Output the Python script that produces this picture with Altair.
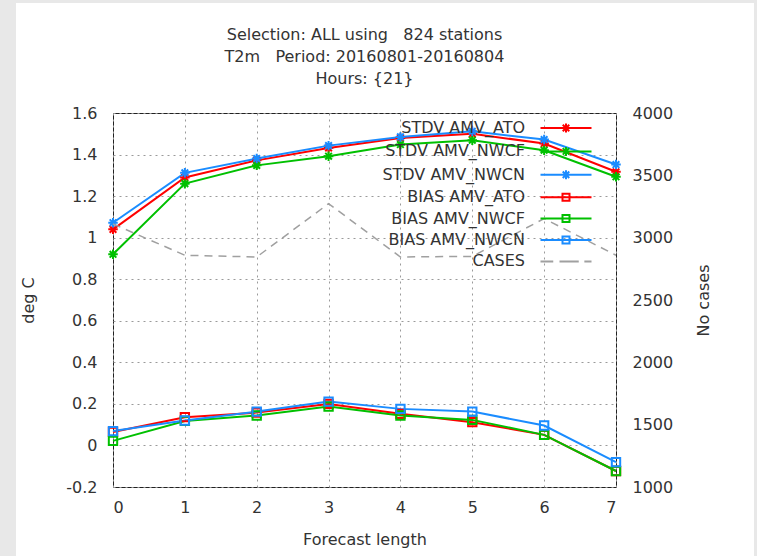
import altair as alt
import pandas as pd

# Forecast length (x) and the statistics per experiment
lead = [0, 1, 2, 3, 4, 5, 6, 7]

stdv_ato = [1.040, 1.290, 1.372, 1.432, 1.480, 1.500, 1.453, 1.317]
stdv_nwcf = [0.920, 1.260, 1.348, 1.392, 1.448, 1.469, 1.421, 1.293]
stdv_nwcn = [1.072, 1.312, 1.381, 1.443, 1.485, 1.512, 1.472, 1.352]

bias_ato = [0.065, 0.136, 0.158, 0.200, 0.152, 0.112, 0.051, -0.123]
bias_nwcf = [0.022, 0.118, 0.144, 0.187, 0.144, 0.123, 0.051, -0.123]
bias_nwcn = [0.069, 0.120, 0.163, 0.211, 0.176, 0.163, 0.096, -0.080]

cases = [3110, 2859, 2845, 3273, 2845, 2850, 3153, 2859]

series_names = [
    "STDV AMV_ATO", "STDV AMV_NWCF", "STDV AMV_NWCN",
    "BIAS AMV_ATO", "BIAS AMV_NWCF", "BIAS AMV_NWCN", "CASES",
]
series_colors = ["#ff0000", "#00c000", "#1a8cff",
                 "#ff0000", "#00c000", "#1a8cff", "#a0a0a0"]

left_ticks = [-0.2, 0, 0.2, 0.4, 0.6, 0.8, 1.0, 1.2, 1.4, 1.6]
right_ticks = [1000, 1500, 2000, 2500, 3000, 3500, 4000]

title_lines = [
    "Selection: ALL using\u00a0\u00a0\u00a0824 stations",
    "T2m\u00a0\u00a0\u00a0Period: 20160801-20160804",
    "Hours: {21}",
]

FONT = "DejaVu Sans"
TEXT = "#333333"

# gnuplot-like point glyphs (unit paths, scaled by the symbol size)
ASTERISK = "M-1,0H1M0,-1V1M-0.7,-0.7L0.7,0.7M-0.7,0.7L0.7,-0.7"
# key samples: a long line segment with the point glyph in its middle
KEY_STAR = "M-5.1,0H5.1M0,-0.9V0.9M-0.65,-0.65L0.65,0.65M-0.65,0.65L0.65,-0.65"
KEY_SQUARE = "M-5.1,0H5.1M-0.7,-0.7H0.7V0.7H-0.7Z"
KEY_DASH = "M-5.1,0H-2.55M-1.3,0H2.55M3.67,0H5.1"
key_shapes = [KEY_STAR] * 3 + [KEY_SQUARE] * 3 + [KEY_DASH]

rows = []
for name, vals in zip(series_names[:6],
                      [stdv_ato, stdv_nwcf, stdv_nwcn, bias_ato, bias_nwcf, bias_nwcn]):
    for x, v in zip(lead, vals):
        rows.append({"lead": x, "value": v, "series": name})
df = pd.DataFrame(rows)
stdv_df = df[df["series"].str.startswith("STDV")]
bias_df = df[df["series"].str.startswith("BIAS")]
cases_df = pd.DataFrame({"lead": lead, "cases": cases})

color_scale = alt.Scale(domain=series_names, range=series_colors)
shape_scale = alt.Scale(domain=series_names, range=key_shapes)

# key: labels to the left of the line samples
key = alt.Legend(
    title=None, orient="none", legendX=445, legendY=7, padding=0,
    labelAlign="right", labelOffset={"expr": "-49"}, labelLimit=400,
    labelFont=FONT, labelFontSize=16, labelColor=TEXT,
    symbolSize=100, symbolStrokeWidth=2, symbolOpacity=1,
    symbolFillColor="transparent", rowPadding=5.4,
)

x_enc = alt.X(
    "lead:Q",
    scale=alt.Scale(domain=[0, 7], nice=False),
    axis=alt.Axis(values=lead, format="d", title="Forecast length",
                  labelPadding=12, titlePadding=16, grid=True),
)
y_left = alt.Y(
    "value:Q",
    scale=alt.Scale(domain=[-0.2, 1.6], nice=False),
    axis=alt.Axis(values=left_ticks, title="deg C", grid=True,
                  labelExpr="'' + round(datum.value * 10) / 10",
                  labelPadding=16, titlePadding=29),
)
color_enc = alt.Color("series:N", scale=color_scale, legend=key)

stdv_lines = alt.Chart(stdv_df).mark_line(strokeWidth=2).encode(
    x=x_enc, y=y_left, color=color_enc)
stdv_points = alt.Chart(stdv_df).mark_point(
    shape=ASTERISK, filled=False, size=90, strokeWidth=2, opacity=1).encode(
    x=x_enc, y=y_left, color=color_enc)
bias_lines = alt.Chart(bias_df).mark_line(strokeWidth=2).encode(
    x=x_enc, y=y_left, color=color_enc)
bias_points = alt.Chart(bias_df).mark_point(
    shape="square", filled=False, size=70, strokeWidth=2, opacity=1).encode(
    x=x_enc, y=y_left, color=color_enc)

legend_layer = alt.Chart(df).transform_filter("false").mark_point(
    filled=False, strokeWidth=2).encode(
    color=color_enc,
    shape=alt.Shape("series:N", scale=shape_scale, legend=key),
)

left = alt.layer(stdv_lines, stdv_points, bias_lines, bias_points, legend_layer)

right = alt.Chart(cases_df).mark_line(
    color="#a0a0a0", strokeDash=[8, 6], strokeWidth=1.5).encode(
    x=x_enc,
    y=alt.Y("cases:Q", scale=alt.Scale(domain=[1000, 4000], nice=False),
            axis=alt.Axis(orient="right", values=right_ticks, format="d",
                          title="No cases", grid=False, labelPadding=16,
                          titlePadding=39, titleAngle=270)),
)


def strip(x0, x1, y0, y1):
    return alt.Chart(pd.DataFrame({"k": [0]})).mark_rect(color="#e8e8e8").encode(
        x=alt.value(x0), x2=alt.value(x1), y=alt.value(y0), y2=alt.value(y1))


frame = [strip(-113, -97, -113, 443), strip(-113, 644, -113, -110),
         strip(641, 644, -113, 443)]

chart = alt.layer(left, right, *frame).resolve_scale(y="independent").properties(
    width=503, height=374,
    padding={"left": 113, "top": 113, "right": 141, "bottom": 69},
    autosize=alt.AutoSizeParams(type="none"),
    background="white",
    title=alt.TitleParams(text=title_lines, font=FONT, fontSize=16, color=TEXT,
                          fontWeight="normal", lineHeight=22, offset=26, dy=113,
                          anchor="middle", frame="group"),
).configure_view(stroke="#222222", strokeWidth=1).configure_axis(
    labelFont=FONT, labelFontSize=16, labelColor=TEXT,
    titleFont=FONT, titleFontSize=16, titleColor=TEXT, titleFontWeight="normal",
    domain=False, ticks=False, tickSize=0,
    gridColor="#9a9a9a", gridDash=[2, 4], gridWidth=1,
)

chart.save("out.html", embed_options={"renderer": "svg", "actions": False})
